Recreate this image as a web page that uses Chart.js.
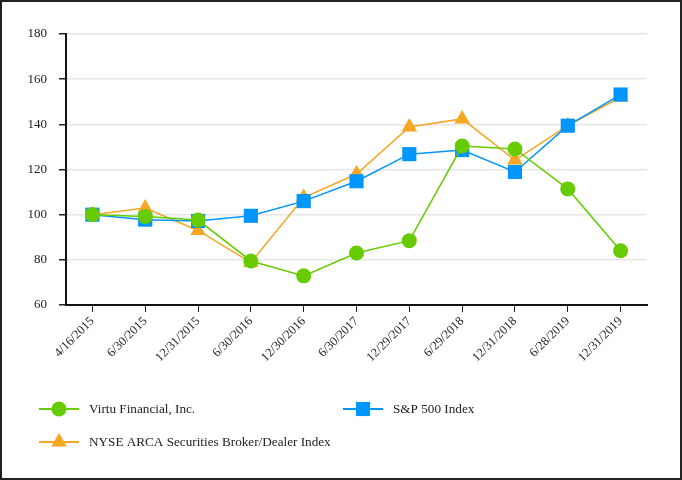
<!DOCTYPE html>
<html>
<head>
<meta charset="utf-8">
<script src="https://cdn.jsdelivr.net/npm/chart.js@4.4.0/dist/chart.umd.min.js"></script>
<style>
  html, body { margin: 0; padding: 0; background: #fff; }
  #wrap { width: 682px; height: 480px; box-sizing: border-box; border: 2px solid #222; position: relative; }
  #chart { display: block; }
</style>
</head>
<body>
<div id="wrap"><canvas id="chart" width="678" height="476"></canvas></div>
<script>
// 日期标签
const dates = ['4/16/2015', '6/30/2015', '12/31/2015', '6/30/2016', '12/30/2016', '6/30/2017',
  '12/29/2017', '6/29/2018', '12/31/2018', '6/28/2019', '12/31/2019'];

const virtu = [100, 99.2, 97.6, 79.5, 72.9, 83, 88.5, 130.4, 129.1, 111.4, 84];
const sp500 = [100, 97.8, 97.2, 99.5, 106, 114.8, 126.8, 128.6, 118.9, 139.4, 153.2];
const nyseArca = [100, 102.9, 93, 78.8, 107.6, 118, 138.8, 142.4, 124.2, 139.4, 152];

const yTicks = [60, 80, 100, 120, 140, 160, 180];

const GREEN = '#66cc00';
const BLUE = '#0096ff';
const ORANGE = '#f5a623';

// 图例：两列布局，画在底部空白处
const legendPlugin = {
  id: 'bottomLegend',
  afterDraw(chart) {
    const ctx = chart.ctx;
    const spots = [[37, 407], [341, 407], [37, 440]];
    ctx.save();
    chart.data.datasets.forEach((ds, i) => {
      const [x, y] = spots[i];
      ctx.strokeStyle = ds.borderColor;
      ctx.lineWidth = 2;
      ctx.beginPath();
      ctx.moveTo(x, y);
      ctx.lineTo(x + 40, y);
      ctx.stroke();
      ctx.fillStyle = ds.borderColor;
      ctx.beginPath();
      const r = ds.pointRadius;
      if (ds.pointStyle === 'circle') {
        ctx.arc(x + 20, y, r, 0, Math.PI * 2);
      } else if (ds.pointStyle === 'rect') {
        const s = r * Math.SQRT1_2;
        ctx.rect(x + 20 - s, y - s, 2 * s, 2 * s);
      } else {
        ctx.moveTo(x + 20, y - r);
        ctx.lineTo(x + 20 + r * 0.866, y + r * 0.5);
        ctx.lineTo(x + 20 - r * 0.866, y + r * 0.5);
        ctx.closePath();
      }
      ctx.fill();
      ctx.fillStyle = '#222';
      ctx.font = '13.2px "Liberation Serif"';
      ctx.textBaseline = 'middle';
      ctx.fillText(ds.label, x + 50, y + 1);
    });
    ctx.restore();
  },
};

function makeSet(label, data, color, style, radius) {
  return {
    label,
    data,
    borderColor: color,
    backgroundColor: color,
    pointBackgroundColor: color,
    pointBorderColor: color,
    pointBorderWidth: 0,
    borderWidth: 1.5,
    pointStyle: style,
    pointRadius: radius,
    pointHoverRadius: radius,
    tension: 0,
  };
}

new Chart(document.getElementById('chart'), {
  type: 'line',
  data: {
    labels: dates,
    datasets: [
      makeSet('Virtu Financial, Inc.', virtu, GREEN, 'circle', 7.5),
      makeSet('S&P 500 Index', sp500, BLUE, 'rect', 10),
      makeSet('NYSE ARCA Securities Broker/Dealer Index', nyseArca, ORANGE, 'triangle', 9),
    ],
  },
  options: {
    responsive: false,
    animation: false,
    layout: { padding: { top: 32, right: 33, left: 0, bottom: 0 } },
    plugins: {
      legend: { display: false },
      tooltip: { enabled: false },
    },
    scales: {
      x: {
        offset: true,
        grid: { drawOnChartArea: false, tickLength: 7, color: '#222', lineWidth: 1 },
        border: { color: '#111', width: 2 },
        ticks: {
          autoSkip: false,
          minRotation: 45,
          maxRotation: 45,
          padding: 2,
          color: '#222',
          font: { family: 'Liberation Serif', size: 12.5 },
        },
        afterFit(scale) { scale.height = 173; },
      },
      y: {
        min: 60,
        max: 180,
        afterBuildTicks(scale) { scale.ticks = yTicks.map((v) => ({ value: v })); },
        grid: {
          color: '#e6e6e6',
          lineWidth: 1.5,
          tickColor: '#222',
          tickLength: 7,
        },
        border: { color: '#111', width: 2 },
        ticks: {
          padding: 12,
          color: '#222',
          font: { family: 'Liberation Serif', size: 13 },
        },
        afterFit(scale) { scale.width = 64; },
      },
    },
  },
  plugins: [legendPlugin],
});
</script>
</body>
</html>
